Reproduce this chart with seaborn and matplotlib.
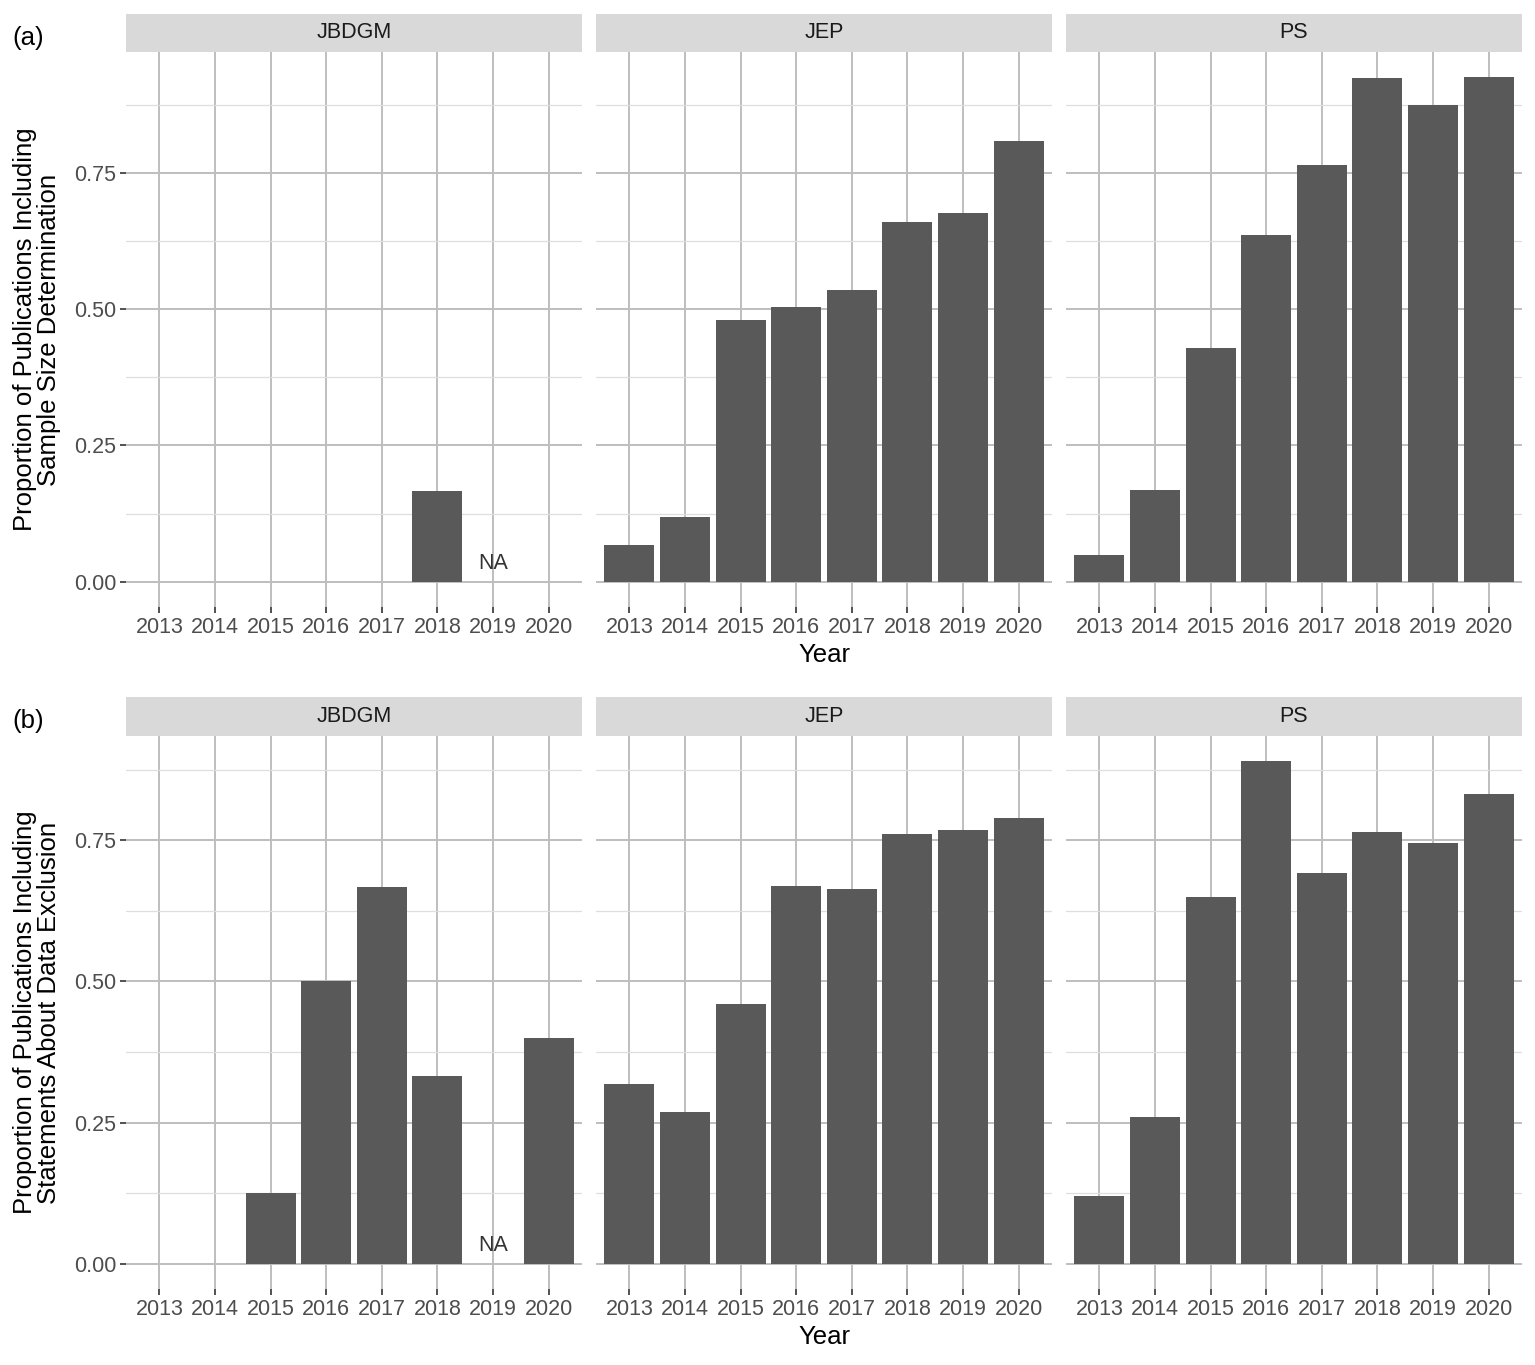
import numpy as np
import pandas as pd
import matplotlib
matplotlib.use("Agg")
import matplotlib.pyplot as plt
import seaborn as sns

years = ["2013", "2014", "2015", "2016", "2017", "2018", "2019", "2020"]
journals = ["JBDGM", "JEP", "PS"]

# (a) sample size determination
sample_jbdgm = [0, 0, 0, 0, 0, 0.167, np.nan, 0]
sample_jep = [0.068, 0.119, 0.48, 0.504, 0.535, 0.66, 0.676, 0.809]
sample_ps = [0.05, 0.169, 0.428, 0.636, 0.765, 0.923, 0.875, 0.925]

# (b) data exclusion statements
excl_jbdgm = [0, 0, 0.125, 0.5, 0.667, 0.333, np.nan, 0.4]
excl_jep = [0.319, 0.269, 0.46, 0.669, 0.664, 0.761, 0.768, 0.789]
excl_ps = [0.12, 0.26, 0.65, 0.89, 0.692, 0.765, 0.745, 0.832]

row_labels = ["(a)", "(b)"]
y_titles = ["Proportion of Publications Including\nSample Size Determination",
            "Proportion of Publications Including\nStatements About Data Exclusion"]


def make_frame(vals):
    rows = []
    for j, v in zip(journals, vals):
        for yr, p in zip(years, v):
            rows.append({"Journal": j, "Year": yr, "Prop": p})
    return pd.DataFrame(rows)


data_a = make_frame([sample_jbdgm, sample_jep, sample_ps])
data_b = make_frame([excl_jbdgm, excl_jep, excl_ps])

sns.set_theme(style="white")
plt.rcParams["font.family"] = ["Liberation Sans", "DejaVu Sans"]

W, H = 1535, 1365
fig = plt.figure(figsize=(W / 100, H / 100), dpi=100)


def px_axes(x0, y0, x1, y1):
    return fig.add_axes([x0 / W, 1 - y1 / H, (x1 - x0) / W, (y1 - y0) / H])


cols_x = [(126, 582), (596, 1052), (1066, 1522)]
rows_y = [(14, 52, 607), (697, 736, 1289)]

for r, df in enumerate([data_a, data_b]):
    strip_top, panel_top, panel_bot = rows_y[r]
    ymax = df["Prop"].max()
    ylim = (-0.05 * ymax, 1.05 * ymax)
    for c, j in enumerate(journals):
        x0, x1 = cols_x[c]
        ax = px_axes(x0, panel_top, x1, panel_bot)
        sub = df[df["Journal"] == j]
        sns.barplot(data=sub, x="Year", y="Prop", order=years, color="#595959",
                    saturation=1, width=0.9, errorbar=None, ax=ax, zorder=3,
                    linewidth=0, edgecolor="none")
        for i, yr in enumerate(years):
            if sub.loc[sub["Year"] == yr, "Prop"].isna().all():
                ax.text(i, 0.033, "NA", ha="center", va="center",
                        fontsize=15.5, color="#333333")
        ax.set_xlim(-0.6, 7.6)
        ax.set_ylim(*ylim)
        ax.set_facecolor("white")
        for s in ax.spines.values():
            s.set_visible(False)
        ax.set_yticks([0, 0.25, 0.5, 0.75])
        ax.set_yticks([0.125, 0.375, 0.625, 0.875], minor=True)
        ax.grid(True, which="major", color="#bebebe", lw=1.4, zorder=0)
        ax.grid(True, which="minor", axis="y", color="#dedede", lw=0.9, zorder=0)
        ax.set_axisbelow(True)
        ax.set_xlabel("")
        ax.set_ylabel("")
        ax.tick_params(axis="x", which="major", length=4, width=1.2, color="#333333",
                       labelsize=15.5, labelcolor="#4d4d4d", pad=3, bottom=True)
        ax.tick_params(axis="y", which="minor", length=0)
        if c == 0:
            ax.set_yticklabels(["0.00", "0.25", "0.50", "0.75"])
            ax.tick_params(axis="y", which="major", length=4, width=1.2, color="#333333",
                           labelsize=15.5, labelcolor="#4d4d4d", pad=3, left=True)
        else:
            ax.tick_params(axis="y", which="major", length=0, labelleft=False)

        st = px_axes(x0, strip_top, x1, panel_top)
        st.set_facecolor("#d9d9d9")
        st.set_xticks([])
        st.set_yticks([])
        for s in st.spines.values():
            s.set_visible(False)
        st.text(0.5, 0.5, j, ha="center", va="center", fontsize=15.5,
                color="#1a1a1a", transform=st.transAxes)

    mid_y = (panel_top + panel_bot) / 2
    fig.text(37 / W, 1 - mid_y / H, y_titles[r], rotation=90, ha="center",
             va="center", fontsize=18.5, color="black", linespacing=1.0)
    fig.text(824 / W, 1 - (panel_bot + 48) / H, "Year", ha="center", va="center",
             fontsize=18.5, color="black")
    fig.text(12 / W, 1 - (strip_top + 24) / H, row_labels[r], ha="left", va="center",
             fontsize=18.5, color="black")

fig.savefig("out.png", dpi=100, facecolor="white")
